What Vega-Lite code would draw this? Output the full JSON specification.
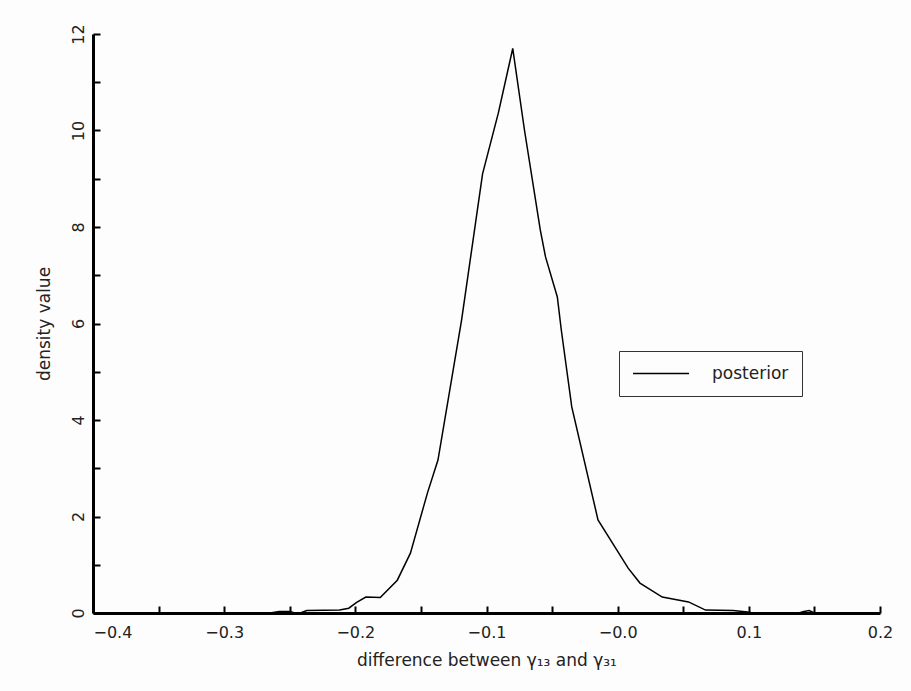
{
  "$schema": "https://vega.github.io/schema/vega-lite/v6.json",
  "width": 787,
  "height": 579,
  "autosize": {"type": "none"},
  "padding": {"left": 93, "top": 34, "right": 31, "bottom": 78},
  "background": "#fdfdfd",
  "config": {"view": {"stroke": null}, "font": "DejaVu Sans"},
  "data": {
    "values": [
      {"diff": -0.265, "density": 0.0},
      {"diff": -0.258, "density": 0.03},
      {"diff": -0.250, "density": 0.03},
      {"diff": -0.246, "density": 0.0},
      {"diff": -0.242, "density": 0.0},
      {"diff": -0.237, "density": 0.05},
      {"diff": -0.212, "density": 0.06},
      {"diff": -0.205, "density": 0.1},
      {"diff": -0.199, "density": 0.22},
      {"diff": -0.192, "density": 0.33},
      {"diff": -0.181, "density": 0.32},
      {"diff": -0.168, "density": 0.68},
      {"diff": -0.158, "density": 1.24},
      {"diff": -0.145, "density": 2.49},
      {"diff": -0.137, "density": 3.17},
      {"diff": -0.119, "density": 6.07},
      {"diff": -0.103, "density": 9.1},
      {"diff": -0.091, "density": 10.36},
      {"diff": -0.080, "density": 11.7},
      {"diff": -0.071, "density": 10.0},
      {"diff": -0.059, "density": 7.94},
      {"diff": -0.055, "density": 7.38},
      {"diff": -0.046, "density": 6.55},
      {"diff": -0.043, "density": 5.87},
      {"diff": -0.035, "density": 4.27},
      {"diff": -0.015, "density": 1.93},
      {"diff": 0.008, "density": 0.93},
      {"diff": 0.017, "density": 0.62},
      {"diff": 0.034, "density": 0.33},
      {"diff": 0.054, "density": 0.23},
      {"diff": 0.067, "density": 0.06},
      {"diff": 0.088, "density": 0.05},
      {"diff": 0.099, "density": 0.02},
      {"diff": 0.103, "density": 0.0},
      {"diff": 0.138, "density": 0.0},
      {"diff": 0.142, "density": 0.03},
      {"diff": 0.146, "density": 0.05},
      {"diff": 0.150, "density": 0.0}
    ]
  },
  "mark": {"type": "line", "strokeWidth": 1.5},
  "encoding": {
    "x": {
      "field": "diff",
      "type": "quantitative",
      "scale": {"domain": [-0.4, 0.2], "nice": false, "zero": false},
      "axis": {
        "title": "difference between γ₁₃ and γ₃₁",
        "values": [-0.4, -0.35, -0.3, -0.25, -0.2, -0.15, -0.1, -0.05, 0, 0.05, 0.1, 0.15, 0.2],
        "labelExpr": "abs(round(datum.value*20)) % 2 == 1 ? '' : (datum.value < 0.001 ? '−' + format(abs(datum.value), '.1f') : format(datum.value, '.1f'))",
        "labelAlign": {"condition": {"test": "datum.value < -0.39", "value": "left"}, "value": "center"},
        "grid": false,
        "domainColor": "black",
        "domainWidth": 3,
        "tickColor": "black",
        "tickWidth": 2,
        "tickSize": -7,
        "labelPadding": 18,
        "labelFontSize": 16,
        "labelColor": "#222",
        "titleFontSize": 17,
        "titleFontWeight": "normal",
        "titleColor": "#222",
        "titlePadding": 12
      }
    },
    "y": {
      "field": "density",
      "type": "quantitative",
      "scale": {"domain": [0, 12], "nice": false},
      "axis": {
        "title": "density value",
        "values": [0, 1, 2, 3, 4, 5, 6, 7, 8, 9, 10, 11, 12],
        "labelExpr": "datum.value % 2 == 0 ? datum.label : ''",
        "labelAngle": -90,
        "grid": false,
        "domainColor": "black",
        "domainWidth": 3,
        "tickColor": "black",
        "tickWidth": 2,
        "tickSize": -7,
        "labelPadding": 14,
        "labelFontSize": 16,
        "labelColor": "#222",
        "titleFontSize": 17,
        "titleFontWeight": "normal",
        "titleColor": "#222",
        "titlePadding": 17
      }
    },
    "color": {
      "datum": "posterior",
      "scale": {"range": ["black"]},
      "legend": {
        "title": null,
        "orient": "none",
        "legendX": 526,
        "legendY": 317,
        "strokeColor": "#333",
        "padding": 13,
        "clipHeight": 19,
        "symbolType": "stroke",
        "symbolSize": 3136,
        "symbolStrokeWidth": 1.5,
        "labelFontSize": 17,
        "labelColor": "#222",
        "labelOffset": 22
      }
    }
  }
}
